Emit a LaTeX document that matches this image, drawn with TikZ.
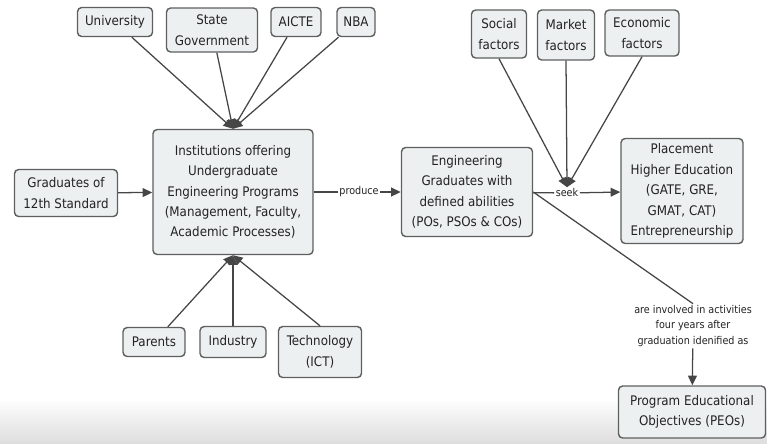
\documentclass[tikz,border=0pt]{standalone}
\usepackage{fontspec}
\setmainfont{DejaVu Sans Condensed}
\usetikzlibrary{arrows.meta}
\definecolor{boxfill}{RGB}{236,240,240}
\definecolor{boxedge}{RGB}{95,95,95}
\definecolor{linecol}{RGB}{70,70,70}
\definecolor{txt}{RGB}{35,35,35}
\begin{document}
\begin{tikzpicture}[x=0.025cm,y=-0.025cm,%
% common options for the concept boxes:
box/.style = {draw=boxedge, fill=boxfill, rounded corners=3pt, line width=1pt,
            align=center, inner sep=0, text=txt, font=\fontsize{9.4}{14.5}\selectfont},
% common options for the linking phrases:
phrase/.style = {fill=white, align=center, inner sep=1pt, text=txt,
            font=\fontsize{7.6}{11}\selectfont},
% common options for the connectors:
link/.style = {draw=linecol, line width=0.9pt},
tip/.style = {link, -{Triangle[length=2.4mm,width=2.2mm]}}]
\useasboundingbox (0,0) rectangle (767,443);
\shade[top color=white, bottom color=black!13] (0,398) rectangle (767,443);
\node[box,minimum width=1.875cm,minimum height=0.725cm] (univ) at (115,22) {University};
\node[box,minimum width=2.275cm,minimum height=1.1cm] (stategov) at (212,30) {State\\Government};
\node[box,minimum width=1.25cm,minimum height=0.725cm] (aicte) at (296,22) {AICTE};
\node[box,minimum width=0.95cm,minimum height=0.725cm] (nba) at (356,22) {NBA};
\node[box,minimum width=4.0cm,minimum height=3.125cm] (inst) at (233,192) {Institutions offering\\Undergraduate\\Engineering Programs\\(Management, Faculty,\\Academic Processes)};
\node[box,minimum width=2.575cm,minimum height=1.175cm] (grad12) at (66,193) {Graduates of\\12th Standard};
\node[box,minimum width=1.55cm,minimum height=0.725cm] (parents) at (154,342) {Parents};
\node[box,minimum width=1.65cm,minimum height=0.775cm] (industry) at (233,342) {Industry};
\node[box,minimum width=2.075cm,minimum height=1.275cm] (tech) at (320,352) {Technology\\(ICT)};
\node[box,minimum width=3.275cm,minimum height=2.225cm] (enggrad) at (467,192) {Engineering\\Graduates with\\defined abilities\\(POs, PSOs \& COs)};
\node[box,minimum width=1.375cm,minimum height=1.2cm] (social) at (499,34) {Social\\factors};
\node[box,minimum width=1.425cm,minimum height=1.25cm] (market) at (566,35) {Market\\factors};
\node[box,minimum width=1.85cm,minimum height=1.15cm] (economic) at (642,33) {Economic\\factors};
\node[box,minimum width=3.05cm,minimum height=2.625cm] (placement) at (682,191) {Placement\\Higher Education\\(GATE, GRE,\\GMAT, CAT)\\Entrepreneurship};
\node[box,minimum width=3.675cm,minimum height=1.3cm] (peos) at (692,412) {Program Educational\\Objectives (PEOs)};
% linking phrases
\node[phrase] (produce) at (359,192) {produce};
\node[phrase] (seek) at (567,193) {seek};
\node[phrase] (involved) at (693,326) {are involved in activities\\four years after\\graduation idenified as};
% connectors
\draw[tip] (univ) to (inst.north);
\draw[tip] (stategov) to (inst.north);
\draw[tip] (aicte) to (inst.north);
\draw[tip] (nba) to (inst.north);
\draw[tip] (grad12) to (inst);
\draw[tip] (parents) to (inst.south);
\draw[tip] (industry) to (inst.south);
\draw[tip] (tech.north) to (inst.south);
\draw[link] (inst) to (produce);
\draw[tip] (produce) to (enggrad);
\draw[link] (enggrad) to (seek);
\draw[tip] (seek) to (placement);
\draw[tip] (social.south) to (seek.north);
\draw[tip] (market.south) to (seek.north);
\draw[tip] (economic.south) to (seek.north);
\draw[link] (enggrad.east) to (involved.north);
\draw[tip] (involved) to (peos);
\end{tikzpicture}
\end{document}
